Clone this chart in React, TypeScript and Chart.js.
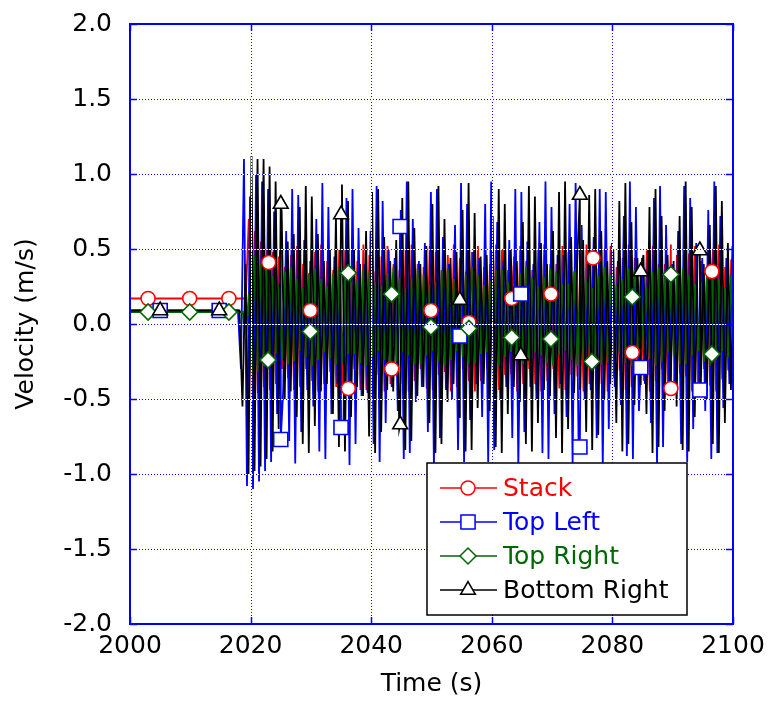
import { useEffect, useRef } from 'react';
import { Chart, registerables } from 'chart.js';

Chart.register(...registerables);

const FONT = '"DejaVu Sans", "Liberation Sans", Arial, sans-serif';

// Axes
const X_MIN = 2000;
const X_MAX = 2100;
const X_STEP = 20;
const Y_MIN = -2;
const Y_MAX = 2;
const Y_STEP = 0.5;
const X_TICK_VALUES = [2000, 2020, 2040, 2060, 2080, 2100];
const Y_TICK_VALUES = [-2, -1.5, -1, -0.5, 0, 0.5, 1, 1.5, 2];
const X_TITLE = 'Time (s)';
const Y_TITLE = 'Velocity (m/s)';

// Series
const SERIES_NAMES = ['Stack', 'Top Left', 'Top Right', 'Bottom Right'];
const SERIES_COLORS = ['#ff0000', '#0000ff', '#006600', '#000000'];
const SERIES_MARKERS = ['circle', 'rect', 'rectRot', 'triangle'];
const MARKER_RADII = [7, 10, 8, 8.5];

// sampling interval of the recorded peaks (s)
const SAMPLE_STEP = 0.5;

// ---- Stack ----
const stackFlat = 0.17;
const stackStart = 2019.2;
const stackValues = [
  0.17, 0.7, -0.5, 0.62, -0.46, 0.55, -0.42, 0.5, -0.44, 0.48,
  -0.4, 0.45, -0.3, 0.38, -0.36, 0.46, -0.44, 0.52, -0.42, 0.4,
  -0.3, 0.34, -0.38, 0.48, -0.45, 0.53, -0.4, 0.42, -0.32, 0.36,
  -0.42, 0.5, -0.45, 0.5, -0.36, 0.38, -0.3, 0.42, -0.44, 0.53,
  -0.44, 0.46, -0.34, 0.35, -0.34, 0.45, -0.45, 0.52, -0.4, 0.4,
  -0.3, 0.36, -0.4, 0.5, -0.45, 0.53, -0.38, 0.4, -0.3, 0.38,
  -0.43, 0.52, -0.44, 0.48, -0.34, 0.36, -0.32, 0.46, -0.45, 0.53,
  -0.42, 0.44, -0.3, 0.35, -0.38, 0.48, -0.45, 0.52, -0.38, 0.38,
  -0.3, 0.4, -0.42, 0.53, -0.44, 0.5, -0.34, 0.36, -0.33, 0.45,
  -0.45, 0.52, -0.4, 0.42, -0.3, 0.36, -0.4, 0.5, -0.45, 0.53,
  -0.38, 0.4, -0.3, 0.4, -0.43, 0.52, -0.44, 0.48, -0.34, 0.35,
  -0.35, 0.47, -0.45, 0.53, -0.4, 0.42, -0.3, 0.37, -0.4, 0.5,
  -0.45, 0.52, -0.36, 0.38, -0.31, 0.44, -0.44, 0.53, -0.42, 0.44,
  -0.3, 0.36, -0.38, 0.49, -0.45, 0.52, -0.38, 0.4, -0.3, 0.4,
  -0.43, 0.53, -0.43, 0.46, -0.33, 0.35, -0.35, 0.47, -0.45, 0.52,
  -0.4, 0.42, -0.3, 0.37, -0.41, 0.5, -0.45, 0.53, -0.37, 0.38,
  -0.31, 0.43, -0.44, 0.52, -0.42, 0.45, -0.32, 0.36, -0.38, 0.48,
];
const stackMarkerTimes = [2003, 2009.9, 2016.4, 2023, 2029.9, 2036.2, 2043.4, 2049.9, 2056.2, 2063.3, 2069.8, 2076.8, 2083.3, 2089.7, 2096.5];
const stackMarkerValues = [0.17, 0.17, 0.17, 0.41, 0.09, -0.43, -0.3, 0.09, 0.01, 0.17, 0.2, 0.44, -0.19, -0.43, 0.35];

// ---- Top Left ----
const topLeftFlat = 0.09;
const topLeftStart = 2017.9;
const topLeftValues = [
  0.09, -0.3, 1.1, -1.08, 0.85, -1.1, 1.0, -1.05, 0.95, -0.98,
  0.9, -0.92, 0.75, -0.6, 0.5, -0.45, 0.62, -0.78, 0.9, -0.93,
  0.86, -0.72, 0.56, -0.44, 0.42, -0.55, 0.7, -0.85, 0.94, -0.9,
  0.78, -0.6, 0.45, -0.4, 0.5, -0.68, 0.84, -0.94, 0.9, -0.8,
  0.64, -0.48, 0.4, -0.46, 0.62, -0.8, 0.92, -0.92, 0.82, -0.66,
  0.5, -0.42, 0.44, -0.58, 0.76, -0.9, 0.95, -0.86, 0.7, -0.52,
  0.42, -0.42, 0.54, -0.72, 0.88, -0.95, 0.9, -0.76, 0.58, -0.44,
  0.4, -0.5, 0.66, -0.84, 0.94, -0.92, 0.8, -0.64, 0.48, -0.4,
  0.44, -0.62, 0.8, -0.92, 0.95, -0.84, 0.68, -0.5, 0.42, -0.42,
  0.56, -0.76, 0.9, -0.95, 0.88, -0.72, 0.55, -0.42, 0.4, -0.5,
  0.68, -0.86, 0.95, -0.9, 0.78, -0.6, 0.46, -0.4, 0.46, -0.62,
  0.8, -0.93, 0.94, -0.82, 0.66, -0.5, 0.4, -0.44, 0.58, -0.76,
  0.9, -0.95, 0.88, -0.7, 0.54, -0.42, 0.42, -0.54, 0.72, -0.88,
  0.95, -0.9, 0.78, -0.58, 0.44, -0.4, 0.5, -0.66, 0.84, -0.94,
  0.92, -0.82, 0.66, -0.48, 0.4, -0.46, 0.62, -0.8, 0.92, -0.92,
  0.84, -0.7, 0.54, -0.42, 0.44, -0.58, 0.76, -0.9, 0.95, -0.86,
  0.72, -0.56, 0.44, -0.4, 0.52, -0.7, 0.86, -0.94, 0.9, -0.78,
];
const topLeftMarkerTimes = [2005, 2014.8, 2025, 2035, 2044.8, 2054.7, 2064.8, 2074.6, 2084.7, 2094.5];
const topLeftMarkerValues = [0.09, 0.09, -0.77, -0.69, 0.65, -0.08, 0.2, -0.82, -0.29, -0.44];

// ---- Top Right ----
const topRightFlat = 0.08;
const topRightStart = 2018.7;
const topRightValues = [
  0.08, -0.1, 0.2, -0.35, 0.45, -0.32, 0.4, -0.28, 0.38, -0.26,
  0.32, -0.2, 0.26, -0.24, 0.35, -0.27, 0.38, -0.25, 0.3, -0.18,
  0.24, -0.22, 0.33, -0.28, 0.37, -0.24, 0.3, -0.19, 0.25, -0.23,
  0.34, -0.27, 0.38, -0.26, 0.32, -0.2, 0.26, -0.2, 0.3, -0.26,
  0.37, -0.28, 0.35, -0.22, 0.28, -0.18, 0.26, -0.24, 0.34, -0.28,
  0.38, -0.25, 0.31, -0.19, 0.24, -0.21, 0.31, -0.27, 0.37, -0.27,
  0.33, -0.21, 0.27, -0.18, 0.28, -0.25, 0.36, -0.28, 0.37, -0.24,
  0.3, -0.18, 0.24, -0.22, 0.33, -0.27, 0.38, -0.26, 0.33, -0.2,
  0.26, -0.19, 0.29, -0.25, 0.36, -0.28, 0.36, -0.22, 0.28, -0.18,
  0.25, -0.23, 0.34, -0.27, 0.38, -0.25, 0.31, -0.19, 0.25, -0.21,
  0.31, -0.26, 0.37, -0.28, 0.35, -0.21, 0.27, -0.18, 0.27, -0.24,
  0.35, -0.28, 0.38, -0.24, 0.3, -0.19, 0.24, -0.22, 0.32, -0.27,
  0.38, -0.26, 0.33, -0.2, 0.26, -0.2, 0.3, -0.26, 0.37, -0.28,
  0.36, -0.22, 0.28, -0.18, 0.25, -0.23, 0.35, -0.28, 0.38, -0.25,
  0.31, -0.19, 0.24, -0.21, 0.31, -0.27, 0.37, -0.27, 0.33, -0.21,
  0.27, -0.18, 0.28, -0.25, 0.36, -0.28, 0.37, -0.24, 0.3, -0.18,
  0.24, -0.22, 0.33, -0.27, 0.38, -0.26, 0.33, -0.2, 0.26, -0.19,
];
const topRightMarkerTimes = [2003, 2009.9, 2016.4, 2022.9, 2029.9, 2036.2, 2043.4, 2049.9, 2056.2, 2063.3, 2069.8, 2076.6, 2083.3, 2089.7, 2096.5];
const topRightMarkerValues = [0.08, 0.08, 0.08, -0.24, -0.05, 0.34, 0.2, -0.02, -0.03, -0.09, -0.1, -0.25, 0.18, 0.33, -0.2];

// ---- Bottom Right ----
const bottomRightFlat = 0.09;
const bottomRightStart = 2018.15;
const bottomRightValues = [
  0.09, -0.55, 0.4, -1.0, 1.12, -0.98, 1.1, -0.95, 1.1, -0.9,
  1.05, -0.85, 0.95, -0.7, 0.75, -0.5, 0.55, -0.45, 0.6, -0.62,
  0.78, -0.8, 0.92, -0.86, 0.85, -0.68, 0.6, -0.45, 0.42, -0.4,
  0.5, -0.6, 0.72, -0.82, 0.93, -0.85, 0.82, -0.62, 0.5, -0.42,
  0.4, -0.48, 0.62, -0.75, 0.88, -0.86, 0.9, -0.72, 0.58, -0.44,
  0.42, -0.45, 0.56, -0.7, 0.84, -0.84, 0.95, -0.78, 0.64, -0.48,
  0.4, -0.42, 0.52, -0.66, 0.8, -0.86, 0.92, -0.8, 0.7, -0.52,
  0.44, -0.4, 0.48, -0.62, 0.76, -0.85, 0.94, -0.84, 0.74, -0.56,
  0.45, -0.4, 0.46, -0.58, 0.72, -0.82, 0.9, -0.86, 0.8, -0.6,
  0.5, -0.42, 0.42, -0.52, 0.68, -0.8, 0.92, -0.85, 0.85, -0.66,
  0.54, -0.44, 0.4, -0.48, 0.62, -0.76, 0.88, -0.86, 0.95, -0.7,
  0.58, -0.46, 0.4, -0.44, 0.56, -0.72, 0.86, -0.84, 0.9, -0.74,
  0.62, -0.5, 0.42, -0.4, 0.5, -0.66, 0.82, -0.85, 0.94, -0.8,
  0.68, -0.54, 0.44, -0.4, 0.46, -0.6, 0.78, -0.86, 0.9, -0.82,
  0.72, -0.58, 0.46, -0.42, 0.42, -0.55, 0.72, -0.84, 0.95, -0.85,
  0.78, -0.62, 0.5, -0.42, 0.4, -0.5, 0.66, -0.8, 0.92, -0.86,
  0.82, -0.66, 0.54, -0.44, 0.4, -0.46, 0.6, -0.76, 0.9, -0.84,
];
const bottomRightMarkerTimes = [2005, 2014.8, 2025, 2035, 2044.8, 2054.7, 2064.8, 2074.6, 2084.7, 2094.5];
const bottomRightMarkerValues = [0.09, 0.09, 0.8, 0.73, -0.67, 0.16, -0.21, 0.86, 0.35, 0.49];

type Pt = { x: number; y: number };

function buildLine(flat: number, start: number, values: number[], mt: number[], mv: number[]): Pt[] {
  const pts: Pt[] = [{ x: X_MIN, y: flat }];
  values.forEach((v, i) => pts.push({ x: start + i * SAMPLE_STEP, y: v }));
  mt.forEach((t, i) => pts.push({ x: t, y: mv[i] }));
  pts.sort((a, b) => a.x - b.x);
  return pts;
}

function buildMarkers(mt: number[], mv: number[]): Pt[] {
  return mt.map((t, i) => ({ x: t, y: mv[i] }));
}

function drawShape(ctx: CanvasRenderingContext2D, style: string, x: number, y: number, r: number) {
  ctx.beginPath();
  if (style === 'circle') {
    ctx.arc(x, y, r, 0, Math.PI * 2);
  } else if (style === 'rect') {
    const s = Math.SQRT1_2 * r;
    ctx.rect(x - s, y - s, 2 * s, 2 * s);
  } else if (style === 'rectRot') {
    ctx.moveTo(x - r, y);
    ctx.lineTo(x, y - r);
    ctx.lineTo(x + r, y);
    ctx.lineTo(x, y + r);
    ctx.closePath();
  } else {
    ctx.moveTo(x, y - r);
    ctx.lineTo(x + Math.sin((2 * Math.PI) / 3) * r, y - Math.cos((2 * Math.PI) / 3) * r);
    ctx.lineTo(x + Math.sin((4 * Math.PI) / 3) * r, y - Math.cos((4 * Math.PI) / 3) * r);
    ctx.closePath();
  }
  ctx.fillStyle = '#ffffff';
  ctx.fill();
  ctx.stroke();
}

const gridFramePlugin = {
  id: 'gridFrame',
  afterDatasetsDraw(chart: any) {
    const { ctx, chartArea: a, scales } = chart;
    const xs = scales.x;
    const ys = scales.y;
    const seg = (x1: number, y1: number, x2: number, y2: number) => {
      ctx.beginPath();
      ctx.moveTo(x1, y1);
      ctx.lineTo(x2, y2);
      ctx.stroke();
    };
    ctx.save();
    ctx.lineWidth = 1;
    X_TICK_VALUES.slice(1, -1).forEach((v) => {
      const px = Math.round(xs.getPixelForValue(v)) + 0.5;
      ctx.setLineDash([]);
      ctx.strokeStyle = '#ffffff';
      seg(px, a.top, px, a.bottom);
      ctx.setLineDash([1, 2]);
      ctx.strokeStyle = '#0000ff';
      seg(px, a.top, px, a.bottom);
    });
    Y_TICK_VALUES.slice(1, -1).forEach((v) => {
      const py = Math.round(ys.getPixelForValue(v)) + 0.5;
      ctx.setLineDash([]);
      ctx.strokeStyle = '#ffffff';
      seg(a.left, py, a.right, py);
      ctx.setLineDash([1, 2]);
      ctx.strokeStyle = '#0000ff';
      seg(a.left, py, a.right, py);
    });
    ctx.setLineDash([]);
    ctx.strokeStyle = '#0000ff';
    ctx.lineWidth = 1.5;
    X_TICK_VALUES.forEach((v) => {
      const px = Math.round(xs.getPixelForValue(v)) + 0.5;
      seg(px, a.bottom, px, a.bottom - 7);
      seg(px, a.top, px, a.top + 7);
    });
    Y_TICK_VALUES.forEach((v) => {
      const py = Math.round(ys.getPixelForValue(v)) + 0.5;
      seg(a.left, py, a.left + 7, py);
      seg(a.right, py, a.right - 7, py);
    });
    ctx.lineWidth = 2;
    ctx.strokeRect(a.left, a.top, a.right - a.left, a.bottom - a.top);
    ctx.restore();
  },
};

const legendBoxPlugin = {
  id: 'legendBox',
  afterDraw(chart: any) {
    const { ctx } = chart;
    const bx = 427;
    const by = 463;
    const bw = 260;
    const bh = 152;
    ctx.save();
    ctx.fillStyle = '#ffffff';
    ctx.fillRect(bx, by, bw, bh);
    ctx.strokeStyle = '#000000';
    ctx.lineWidth = 1.5;
    ctx.strokeRect(bx, by, bw, bh);
    const rows = [488, 522, 556, 590];
    SERIES_NAMES.forEach((name, i) => {
      const y = rows[i];
      ctx.strokeStyle = SERIES_COLORS[i];
      ctx.lineWidth = 1.5;
      ctx.beginPath();
      ctx.moveTo(440, y);
      ctx.lineTo(497, y);
      ctx.stroke();
      drawShape(ctx, SERIES_MARKERS[i], 468, y, MARKER_RADII[i]);
      ctx.fillStyle = SERIES_COLORS[i];
      ctx.font = `25px ${FONT}`;
      ctx.textAlign = 'left';
      ctx.textBaseline = 'middle';
      ctx.fillText(name, 503, y + 1);
    });
    ctx.restore();
  },
};

export default function App() {
  const ref = useRef<HTMLCanvasElement | null>(null);

  useEffect(() => {
    if (!ref.current) return;
    const lines = [
      buildLine(stackFlat, stackStart, stackValues, stackMarkerTimes, stackMarkerValues),
      buildLine(topLeftFlat, topLeftStart, topLeftValues, topLeftMarkerTimes, topLeftMarkerValues),
      buildLine(topRightFlat, topRightStart, topRightValues, topRightMarkerTimes, topRightMarkerValues),
      buildLine(bottomRightFlat, bottomRightStart, bottomRightValues, bottomRightMarkerTimes, bottomRightMarkerValues),
    ];
    const markers = [
      buildMarkers(stackMarkerTimes, stackMarkerValues),
      buildMarkers(topLeftMarkerTimes, topLeftMarkerValues),
      buildMarkers(topRightMarkerTimes, topRightMarkerValues),
      buildMarkers(bottomRightMarkerTimes, bottomRightMarkerValues),
    ];
    const lineOrder = [8, 7, 6, 5];
    const datasets: any[] = [];
    SERIES_NAMES.forEach((name, i) => {
      datasets.push({
        label: name,
        data: lines[i],
        borderColor: SERIES_COLORS[i],
        backgroundColor: SERIES_COLORS[i],
        borderWidth: 1.8,
        pointRadius: 0,
        pointHoverRadius: 0,
        tension: 0,
        fill: false,
        order: lineOrder[i],
      });
    });
    SERIES_NAMES.forEach((name, i) => {
      datasets.push({
        label: name + ' markers',
        data: markers[i],
        showLine: false,
        borderColor: SERIES_COLORS[i],
        backgroundColor: '#ffffff',
        pointStyle: SERIES_MARKERS[i],
        pointRadius: MARKER_RADII[i],
        pointBorderWidth: 1.6,
        pointBackgroundColor: '#ffffff',
        pointBorderColor: SERIES_COLORS[i],
        order: 4 - i,
      });
    });

    const chart = new Chart(ref.current, {
      type: 'line',
      data: { datasets },
      options: {
        animation: false,
        responsive: false,
        events: [],
        layout: { padding: { left: 0, top: 24, right: 35, bottom: 0 } },
        plugins: {
          legend: { display: false },
          tooltip: { enabled: false },
        },
        scales: {
          x: {
            type: 'linear',
            min: X_MIN,
            max: X_MAX,
            afterFit: (s: any) => {
              s.height = 82;
              s.paddingLeft = 0;
              s.paddingRight = 0;
            },
            afterBuildTicks: (s: any) => {
              s.ticks = X_TICK_VALUES.map((v) => ({ value: v }));
            },
            ticks: {
              stepSize: X_STEP,
              autoSkip: false,
              maxRotation: 0,
              padding: 7,
              color: '#000000',
              font: { family: FONT, size: 25 },
              callback: (v: any) => String(v),
            },
            grid: { display: false, drawTicks: false },
            border: { display: false },
            title: {
              display: true,
              text: X_TITLE,
              color: '#000000',
              font: { family: FONT, size: 25 },
              padding: { top: 0, bottom: 7 },
            },
          },
          y: {
            type: 'linear',
            min: Y_MIN,
            max: Y_MAX,
            afterFit: (s: any) => {
              s.width = 130;
              s.paddingTop = 0;
              s.paddingBottom = 0;
            },
            afterBuildTicks: (s: any) => {
              s.ticks = Y_TICK_VALUES.map((v) => ({ value: v }));
            },
            ticks: {
              stepSize: Y_STEP,
              autoSkip: false,
              padding: 18,
              color: '#000000',
              font: { family: FONT, size: 25 },
              callback: (v: any) => Number(v).toFixed(1),
            },
            grid: { display: false, drawTicks: false },
            border: { display: false },
            title: {
              display: true,
              text: Y_TITLE,
              color: '#000000',
              font: { family: FONT, size: 25 },
              padding: { top: 11, bottom: 0 },
            },
          },
        },
      },
      plugins: [gridFramePlugin, legendBoxPlugin],
    });
    return () => chart.destroy();
  }, []);

  return (
    <div style={{ position: 'absolute', left: 0, top: 0, width: 768, height: 706 }}>
      <canvas ref={ref} width={768} height={706} style={{ display: 'block' }} />
    </div>
  );
}
